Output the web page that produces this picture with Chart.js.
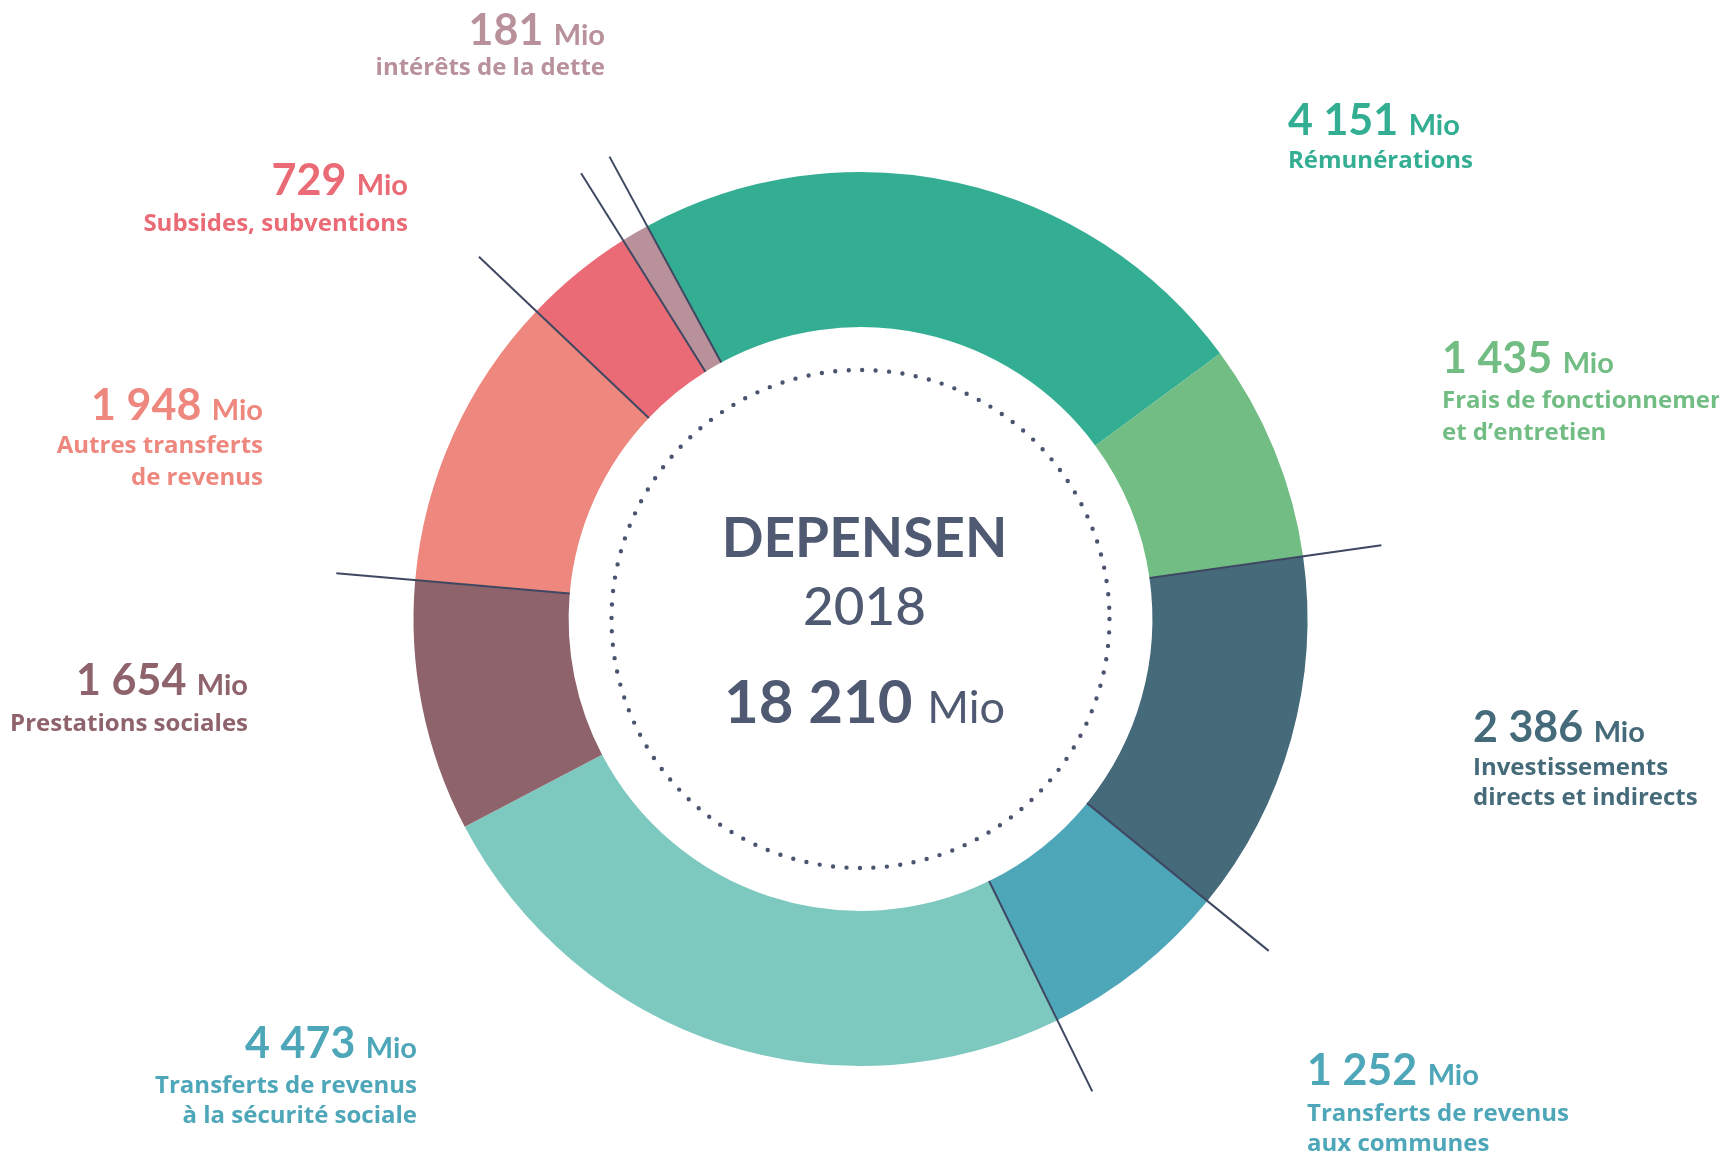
<!DOCTYPE html>
<html><head><meta charset="utf-8">
<script src="https://cdn.jsdelivr.net/npm/chart.js@4.4.1/dist/chart.umd.min.js"></script>
<style>html,body{margin:0;padding:0;background:#fff;overflow:hidden}#wrap{position:relative;width:1719px;height:1153px}</style>
</head><body><div id="wrap"><canvas id="c" width="1719" height="1153"></canvas></div>
<script>
// ---- data ----
const categories = ["Rémunérations", "Frais de fonctionnement et d’entretien", "Investissements directs et indirects", "Transferts de revenus aux communes", "Transferts de revenus à la sécurité sociale", "Prestations sociales", "Autres transferts de revenus", "Subsides, subventions", "intérêts de la dette"];
const values = [4151, 1435, 2386, 1252, 4473, 1654, 1948, 729, 181];
const subtitleLines = [["Rémunérations"], ["Frais de fonctionnement", "et d’entretien"], ["Investissements", "directs et indirects"], ["Transferts de revenus", "aux communes"], ["Transferts de revenus", "à la sécurité sociale"], ["Prestations sociales"], ["Autres transferts", "de revenus"], ["Subsides, subventions"], ["intérêts de la dette"]];
const centerTitle = "DEPENSEN";
const centerYear = "2018";
const totalValue = 18210;
const unit = "Mio";

// ---- styles / layout ----
const segmentColors = ["#33ae93", "#72bd84", "#456a79", "#4ea6b9", "#7ec9bf", "#8f636b", "#ee877e", "#ea6a75", "#b8919b"];
const labelColors = ["#33ae93", "#72bd84", "#456a79", "#4ea6b9", "#4ea6b9", "#8f636b", "#ee877e", "#ea6a75", "#b8919b"];
const boundaryLines = [0, 2, 3, 4, 6, 7, 8];
const labelLayout = [
  {align: "left", x: 1288, y: 135, lines: [168]},
  {align: "left", x: 1442, y: 373, lines: [408, 440]},
  {align: "left", x: 1473, y: 742, lines: [775, 805]},
  {align: "left", x: 1307, y: 1085, lines: [1121, 1151]},
  {align: "right", x: 417, y: 1058, lines: [1093, 1123]},
  {align: "right", x: 248, y: 695, lines: [731]},
  {align: "right", x: 263, y: 420, lines: [453, 485]},
  {align: "right", x: 408, y: 195, lines: [231]},
  {align: "right", x: 605, y: 45, lines: [75]}
];
const FONT = "Lato, 'Open Sans', sans-serif";
const SUBFONT = "'Open Sans', Lato, sans-serif";
const fmt = v => String(v).replace(/\B(?=(\d{3})+(?!\d))/g, " ");

const decor = {
  id: "decor",
  afterDatasetsDraw(chart) {
    const ctx = chart.ctx;
    const meta = chart.getDatasetMeta(0);
    const a0 = meta.data[0];
    const cx = a0.x, cy = a0.y, ri = a0.innerRadius, ro = a0.outerRadius;
    ctx.save();
    // leader lines along boundaries
    ctx.strokeStyle = "#3f4862";
    ctx.lineWidth = 2;
    boundaryLines.forEach(i => {
      const ang = meta.data[i].startAngle;
      ctx.beginPath();
      ctx.moveTo(cx + ri * Math.cos(ang), cy + ri * Math.sin(ang));
      ctx.lineTo(cx + ro * 1.177 * Math.cos(ang), cy + ro * 1.177 * Math.sin(ang));
      ctx.stroke();
    });
    // dotted circle
    ctx.setLineDash([0, 13.5]);
    ctx.lineCap = "round";
    ctx.lineWidth = 4.4;
    ctx.strokeStyle = "#4a5470";
    ctx.beginPath();
    ctx.arc(cx, cy, ri * 0.853, 0, Math.PI * 2);
    ctx.stroke();
    ctx.setLineDash([]);
    // center text
    const tx = cx + 4;
    ctx.fillStyle = "#4f5a72";
    ctx.textBaseline = "alphabetic";
    ctx.textAlign = "center";
    ctx.font = "bold 55px " + FONT;
    ctx.fillText(centerTitle, tx, cy - 62);
    ctx.font = "500 53px " + FONT;
    ctx.fillText(centerYear, tx, cy + 6);
    ctx.textAlign = "left";
    const big = fmt(totalValue);
    ctx.font = "bold 60px " + FONT;
    const w1 = ctx.measureText(big + " ").width;
    ctx.font = "normal 45px " + FONT;
    const w2 = ctx.measureText(unit).width;
    let sx = tx - (w1 + w2) / 2;
    ctx.font = "bold 60px " + FONT;
    ctx.fillText(big, sx, cy + 104);
    ctx.font = "normal 45px " + FONT;
    ctx.fillText(unit, sx + w1, cy + 104);
    // outer labels
    values.forEach((v, i) => {
      const L = labelLayout[i];
      ctx.fillStyle = labelColors[i];
      const num = fmt(v);
      ctx.font = "bold 43px " + FONT;
      const wn = ctx.measureText(num + " ").width;
      ctx.font = "bold 29px " + FONT;
      const wm = ctx.measureText(unit).width;
      const x0 = L.align === "left" ? L.x : L.x - wn - wm;
      ctx.textAlign = "left";
      ctx.font = "bold 43px " + FONT;
      ctx.fillText(num, x0, L.y);
      ctx.font = "bold 29px " + FONT;
      ctx.fillText(unit, x0 + wn, L.y);
      ctx.font = "bold 24px " + SUBFONT;
      ctx.textAlign = L.align;
      subtitleLines[i].forEach((t, k) => ctx.fillText(t, L.x, L.lines[k]));
    });
    ctx.restore();
  }
};

new Chart(document.getElementById("c"), {
  type: "doughnut",
  data: {
    labels: categories,
    datasets: [{data: values, backgroundColor: segmentColors, borderWidth: 0, hoverOffset: 0}]
  },
  options: {
    responsive: false,
    animation: false,
    rotation: -28.5,
    radius: 447,
    cutout: "65.3%",
    layout: {padding: {top: 85, bottom: 0, left: 2, right: 0}},
    plugins: {legend: {display: false}, tooltip: {enabled: false}}
  },
  plugins: [decor]
});
</script>
</body></html>
